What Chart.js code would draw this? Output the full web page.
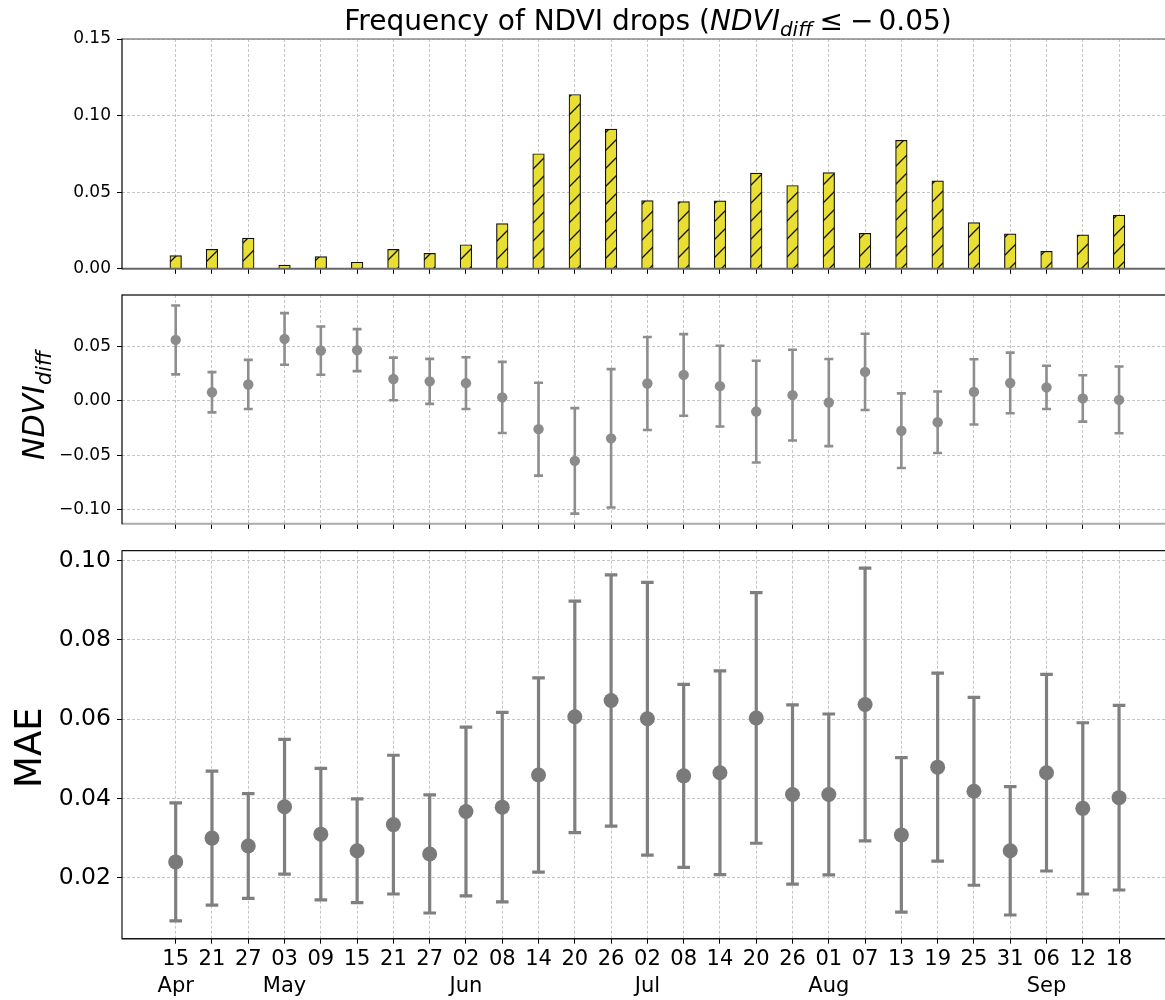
<!DOCTYPE html>
<html><head><meta charset="utf-8">
<script src="https://cdn.jsdelivr.net/npm/chart.js@4.4.0/dist/chart.umd.min.js"></script>
<style>
html,body{margin:0;padding:0;background:#fff;overflow:hidden;}
#wrap{position:relative;width:1165px;height:1000px;}
canvas{position:absolute;left:0;}
</style></head><body>
<div id="wrap">
<canvas id="c1" width="1165" height="285" style="top:0px"></canvas>
<canvas id="c2" width="1165" height="275" style="top:265px"></canvas>
<canvas id="c3" width="1165" height="480" style="top:520px"></canvas>
</div>
<script>
// ---------- data ----------
const dayLabels = ['15','21','27','03','09','15','21','27','02','08','14','20','26','02','08','14','20','26','01','07','13','19','25','31','06','12','18'];
const monthLabels = ['Apr','','','May','','','','','Jun','','','','','Jul','','','','','Aug','','','','','','Sep','',''];

const dropFreq = [0.0086,0.0127,0.0200,0.0024,0.0080,0.0043,0.0127,0.0101,0.0157,0.0295,0.0751,0.1138,0.0912,0.0445,0.0439,0.0443,0.0624,0.0544,0.0628,0.0232,0.0839,0.0574,0.0301,0.0228,0.0114,0.0222,0.0351];

const ndviMean = [0.0561,0.0080,0.0151,0.0570,0.0463,0.0467,0.0202,0.0180,0.0163,0.0032,-0.0260,-0.0551,-0.0344,0.0160,0.0239,0.0136,-0.0098,0.0053,-0.0015,0.0267,-0.0274,-0.0196,0.0083,0.0165,0.0124,0.0023,0.0009];
const ndviStd  = [0.0317,0.0185,0.0226,0.0237,0.0222,0.0193,0.0196,0.0207,0.0238,0.0327,0.0427,0.0485,0.0636,0.0428,0.0375,0.0371,0.0468,0.0417,0.0401,0.0351,0.0343,0.0283,0.0300,0.0279,0.0199,0.0213,0.0307];

const maeMean = [0.0240,0.0300,0.0280,0.0379,0.0310,0.0268,0.0334,0.0260,0.0367,0.0378,0.0459,0.0606,0.0647,0.0601,0.0457,0.0465,0.0603,0.0410,0.0410,0.0637,0.0308,0.0479,0.0418,0.0268,0.0465,0.0375,0.0402];
const maeStd  = [0.0149,0.0169,0.0132,0.0170,0.0166,0.0131,0.0175,0.0149,0.0213,0.0239,0.0245,0.0292,0.0317,0.0344,0.0231,0.0257,0.0316,0.0226,0.0203,0.0344,0.0195,0.0237,0.0237,0.0162,0.0248,0.0216,0.0233];

const freqTicks = [0, 0.05, 0.10, 0.15];
const ndviTicks = [-0.10, -0.05, 0, 0.05];
const maeTicks = [0.02, 0.04, 0.06, 0.08, 0.10];

// ---------- helpers ----------
const FONT = "'DejaVu Sans', sans-serif";
const GRID = '#c4c4c4';
const fmt = v => (v < -1e-9 ? '\u2212' : '') + Math.abs(v).toFixed(2);

function xScale(showLabels, axisHeight) {
  return {
    type: 'linear', min: -1.48, max: 27.266, offset: false,
    afterBuildTicks: ax => { ax.ticks = dayLabels.map((d, i) => ({ value: i })); },
    afterFit: ax => { ax.height = axisHeight; ax.paddingLeft = 0; ax.paddingRight = 0; },
    grid: { offset: false, color: GRID, lineWidth: 1, borderDash: [3, 2], tickColor: '#000', tickLength: 5, tickWidth: 1, tickBorderDash: [] },
    border: { display: false, dash: [3, 2] },
    ticks: {
      display: showLabels, autoSkip: false, maxRotation: 0, minRotation: 0, padding: 2,
      color: '#000', font: { family: FONT, size: 21, lineHeight: 1.3 },
      callback: v => monthLabels[v] ? [dayLabels[v], monthLabels[v]] : dayLabels[v]
    }
  };
}
function yScale(min, max, tickVals, fontSize) {
  return {
    min, max,
    afterBuildTicks: ax => { ax.ticks = tickVals.map(v => ({ value: v })); },
    afterFit: ax => { ax.width = 122; },
    grid: { color: GRID, lineWidth: 1, borderDash: [3, 2], tickColor: '#000', tickLength: 5, tickWidth: 1, tickBorderDash: [] },
    border: { display: false, dash: [3, 2] },
    ticks: { color: '#000', padding: 6, font: { family: FONT, size: fontSize }, callback: v => fmt(v) }
  };
}
function spines(cfg) {
  return {
    id: 'spines',
    afterDraw(chart) {
      const { ctx, chartArea: a } = chart;
      ctx.save();
      const line = (x1, y1, x2, y2, c, w) => { ctx.strokeStyle = c; ctx.lineWidth = w; ctx.beginPath(); ctx.moveTo(x1, y1); ctx.lineTo(x2, y2); ctx.stroke(); };
      line(a.left, a.top, a.right, a.top, cfg.top[0], cfg.top[1]);
      line(a.left, a.bottom, a.right, a.bottom, cfg.bottom[0], cfg.bottom[1]);
      line(a.left, a.top - 0.5, a.left, a.bottom + 0.5, cfg.left[0], cfg.left[1]);
      ctx.restore();
    }
  };
}
function errorBars(mean, err, color, lw, cap) {
  return {
    id: 'errbars',
    beforeDatasetsDraw(chart) {
      const { ctx, scales: { x, y } } = chart;
      ctx.save();
      ctx.strokeStyle = color; ctx.lineWidth = lw;
      mean.forEach((m, i) => {
        const px = x.getPixelForValue(i);
        const t = y.getPixelForValue(m + err[i]);
        const b = y.getPixelForValue(m - err[i]);
        ctx.beginPath();
        ctx.moveTo(px, t); ctx.lineTo(px, b);
        ctx.moveTo(px - cap, t); ctx.lineTo(px + cap, t);
        ctx.moveTo(px - cap, b); ctx.lineTo(px + cap, b);
        ctx.stroke();
      });
      ctx.restore();
    }
  };
}
function drawRuns(ctx, runs, cx, baseY) {
  let total = 0;
  runs.forEach(r => { ctx.font = r[1]; r.w = ctx.measureText(r[0]).width; total += r.w + (r[3] || 0); });
  let x = cx - total / 2;
  ctx.textAlign = 'left'; ctx.textBaseline = 'alphabetic'; ctx.fillStyle = '#000';
  runs.forEach(r => { ctx.font = r[1]; ctx.fillText(r[0], x, baseY + (r[2] || 0)); x += r.w + (r[3] || 0); });
}

function hatchPattern() {
  const s = 18, c = document.createElement('canvas');
  c.width = s; c.height = s;
  const g = c.getContext('2d');
  g.fillStyle = '#e8df32'; g.fillRect(0, 0, s, s);
  g.strokeStyle = '#111'; g.lineWidth = 1.3;
  g.beginPath();
  g.moveTo(0, s); g.lineTo(s, 0);
  g.moveTo(-2, 2); g.lineTo(2, -2);
  g.moveTo(s - 2, s + 2); g.lineTo(s + 2, s - 2);
  g.stroke();
  return g.createPattern(c, 'repeat');
}

Chart.defaults.font.family = FONT;

// ---------- chart 1: frequency bars ----------
new Chart(document.getElementById('c1'), {
  type: 'bar',
  data: { datasets: [{
    data: dropFreq.map((v, i) => ({ x: i, y: v })),
    backgroundColor: hatchPattern(), borderColor: '#111', borderWidth: 1.2, barThickness: 11.6
  }] },
  options: {
    responsive: false, animation: false, devicePixelRatio: 1,
    layout: { autoPadding: false, padding: { top: 39, left: 0, right: 0, bottom: 0 } },
    plugins: { legend: { display: false }, tooltip: { enabled: false } },
    scales: { x: xScale(false, 13.3), y: yScale(0, 0.15, freqTicks, 17) }
  },
  plugins: [spines({ top: ['#8a8a8a', 1.6], bottom: ['#666', 2], left: ['#000', 1.2] }), {
    id: 'title1',
    afterDraw(chart) {
      const ctx = chart.ctx; ctx.save();
      const n = '28px ' + FONT, it = 'italic 28px ' + FONT, sub = 'italic 20px ' + FONT;
      drawRuns(ctx, [
        ['Frequency of NDVI drops (', n, 0, 0],
        ['NDVI', it, 0, 0],
        ['diff', sub, 6, 7],
        ['\u2264', n, 0, 7],
        ['\u2212', n, 0, 5],
        ['0.05)', n, 0, 0]
      ], 648, 30);
      ctx.restore();
    }
  }]
});

// ---------- chart 2: NDVI diff ----------
new Chart(document.getElementById('c2'), {
  type: 'scatter',
  data: { datasets: [{
    data: ndviMean.map((v, i) => ({ x: i, y: v })),
    backgroundColor: '#8c8c8c', borderWidth: 0, pointRadius: 5.2, pointHoverRadius: 5.2
  }] },
  options: {
    responsive: false, animation: false, devicePixelRatio: 1,
    layout: { autoPadding: false, padding: { top: 30, left: 0, right: 0, bottom: 0 } },
    plugins: { legend: { display: false }, tooltip: { enabled: false } },
    scales: { x: xScale(false, 12.3), y: yScale(-0.113, 0.0974, ndviTicks, 17) }
  },
  plugins: [errorBars(ndviMean, ndviStd, '#8e8e8e', 2.6, 4.5),
    spines({ top: ['#333', 1.4], bottom: ['#aaa', 2], left: ['#000', 1.2] }), {
    id: 'ylab2',
    afterDraw(chart) {
      const { ctx, chartArea: a } = chart; ctx.save();
      ctx.translate(44, (a.top + a.bottom) / 2 - 4);
      ctx.rotate(-Math.PI / 2);
      drawRuns(ctx, [['NDVI', 'italic 30px ' + FONT, 0, 0], ['diff', 'italic 21px ' + FONT, 7, 0]], 0, 0);
      ctx.restore();
    }
  }]
});

// ---------- chart 3: MAE ----------
new Chart(document.getElementById('c3'), {
  type: 'scatter',
  data: { datasets: [{
    data: maeMean.map((v, i) => ({ x: i, y: v })),
    backgroundColor: '#7a7a7a', borderWidth: 0, pointRadius: 7.5, pointHoverRadius: 7.5
  }] },
  options: {
    responsive: false, animation: false, devicePixelRatio: 1,
    layout: { autoPadding: false, padding: { top: 30.7, left: 0, right: 0, bottom: 0 } },
    plugins: { legend: { display: false }, tooltip: { enabled: false } },
    scales: { x: xScale(true, 61.3), y: yScale(0.00462, 0.1025, maeTicks, 23.5) }
  },
  plugins: [errorBars(maeMean, maeStd, '#7f7f7f', 3.2, 6.3),
    spines({ top: ['#111', 1.2], bottom: ['#111', 1.4], left: ['#111', 1.2] }), {
    id: 'ylab3',
    afterDraw(chart) {
      const { ctx, chartArea: a } = chart; ctx.save();
      ctx.translate(41, (a.top + a.bottom) / 2 + 3);
      ctx.rotate(-Math.PI / 2);
      drawRuns(ctx, [['MAE', '37px ' + FONT, 0, 0]], 0, 0);
      ctx.restore();
    }
  }]
});
</script>
</body></html>
